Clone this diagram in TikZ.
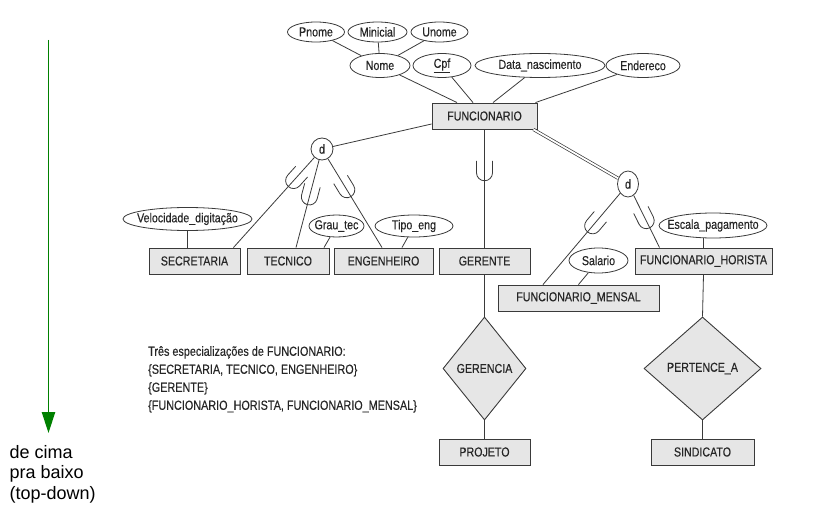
\documentclass[tikz,border=0pt]{standalone}
\usepackage{fontspec}
\usetikzlibrary{shapes.geometric,arrows.meta}
\newfontfamily\narrowfont{Liberation Sans}[FakeStretch=0.82,FakeBold=0.3]
\newfontfamily\plainfont{Liberation Sans}
% zero-width box so that ellipse sizes come only from their minimum sizes
\newcommand{\attrtext}[1]{\makebox[0pt]{#1}}
\definecolor{linec}{HTML}{3A3A3A}
\definecolor{boxfill}{HTML}{E6E6E6}
\definecolor{arrowgreen}{HTML}{008000}
\begin{document}
\begin{tikzpicture}[x=1pt,y=-1pt,
  labelfont/.style={font=\narrowfont\fontsize{13}{15}\selectfont, text=black!85},
  conn/.style={draw=linec, line width=0.8pt},
  entity/.style={rectangle, draw=linec, line width=0.9pt, fill=boxfill,
    minimum height=26pt, minimum width=#1, inner sep=0pt, labelfont},
  attr/.style args={#1x#2}{ellipse, draw=linec, line width=0.8pt, fill=white,
    minimum width=#1, minimum height=#2, inner sep=0pt, labelfont},
  rel/.style args={#1x#2}{diamond, draw=linec, line width=0.9pt, fill=boxfill,
    minimum width=#1, minimum height=#2, inner sep=0pt, labelfont},
  disj/.style args={#1x#2}{ellipse, draw=linec, line width=0.8pt, fill=white,
    minimum width=#1, minimum height=#2, inner sep=0pt, labelfont},
  subsetU/.pic={\draw[conn] (-10,-8) -- (2,-8) arc[start angle=-90, end angle=90, radius=8] -- (-10,8);},
  usym/.style={pos=#1, sloped, allow upside down},
  dbl/.style={draw=linec, line width=0.7pt, double=white, double distance=1.8pt},
  greenarrow/.style={draw=arrowgreen, line width=1.6pt,
    -{Triangle[width=13.3pt,length=21pt]}, arrowgreen}
]
\useasboundingbox (0,0) rectangle (837,513);

% direction arrow at the left
\coordinate (arrowtop) at (48.5,40);
\coordinate (arrowtip) at (48.5,433);
\draw[greenarrow] (arrowtop) -- (arrowtip);
\node[anchor=north west, align=left, inner sep=0pt,
      font=\plainfont\fontsize{18}{20.5}\selectfont] (dir) at (9.5,445)
  {de cima\\pra baixo\\(top-down)};

% entities
\node[entity=105pt] (func) at (484.5,116) {FUNCIONARIO};
\node[entity=91pt]  (sec)  at (194.5,261) {SECRETARIA};
\node[entity=82pt]  (tec)  at (288,261)   {TECNICO};
\node[entity=99pt]  (eng)  at (383.5,261) {ENGENHEIRO};
\node[entity=91pt]  (ger)  at (484.5,261) {GERENTE};
\node[entity=137pt] (hor)  at (703.5,261) {FUNCIONARIO\_HORISTA};
\node[entity=161pt] (men)  at (578.5,298) {FUNCIONARIO\_MENSAL};
\node[entity=91pt]  (proj) at (484.5,452) {PROJETO};
\node[entity=103pt] (sind) at (702.5,452) {SINDICATO};

% relationships
\node[rel=83ptx103pt]  (gerencia) at (484.5,368.5) {GERENCIA};
\node[rel=117ptx103pt] (pertence) at (702.5,368.5) {PERTENCE\_A};

% attributes of FUNCIONARIO
\node[attr=57ptx20pt]  (pnome)    at (316,32)    {\attrtext{Pnome}};
\node[attr=59ptx20pt]  (minicial) at (377.5,32)  {\attrtext{Minicial}};
\node[attr=57ptx20pt]  (unome)    at (439.5,32)  {\attrtext{Unome}};
\node[attr=60ptx24pt]  (nome)     at (380,65.5)  {\attrtext{Nome}};
\node[attr=58ptx24pt]  (cpf)      at (442,65.5)  {\attrtext{\underline{Cpf}}};
\node[attr=130ptx24pt] (datan)    at (540,65.5)  {\attrtext{Data\_nascimento}};
\node[attr=74ptx24pt]  (ender)    at (643,65.5)  {\attrtext{Endereco}};

% attributes of the subclasses
\node[attr=129ptx23pt] (veloc)   at (187.5,219)   {\attrtext{Velocidade\_digitação}};
\node[attr=55ptx22pt]  (grau)    at (336.5,226)   {\attrtext{Grau\_tec}};
\node[attr=78ptx22pt]  (tipo)    at (414,226)     {\attrtext{Tipo\_eng}};
\node[attr=59ptx25pt]  (salario) at (598.5,260.5) {\attrtext{Salario}};
\node[attr=108ptx25pt] (escala)  at (713,225.5)   {\attrtext{Escala\_pagamento}};

% disjointness circles
\node[disj=22ptx22pt] (d1) at (322,149) {d};
\node[disj=21ptx26pt] (d2) at (628,184) {d};

% composite attribute Nome
\draw[conn] (pnome) -- (nome);
\draw[conn] (minicial) -- (nome);
\draw[conn] (unome) -- (nome);

% attribute links to FUNCIONARIO
\draw[conn] (nome)  -- ([xshift=-27.5pt]func.north);
\draw[conn] (cpf)   -- ([xshift=-11.5pt]func.north);
\draw[conn] (datan) -- ([xshift=8.5pt]func.north);
\draw[conn] (ender) -- ([xshift=-2pt]func.north east);

% first specialization
\draw[conn] ([yshift=-8pt]func.west) -- (d1);
\draw[conn] (d1) -- ([xshift=-7pt]sec.north east) pic[usym=0.24] {subsetU};
\draw[conn] (d1) -- ([xshift=8pt]tec.north) pic[usym=0.40] {subsetU};
\draw[conn] (d1) -- ([xshift=-1.5pt]eng.north) pic[usym=0.33] {subsetU};

% second specialization
\draw[conn] (func.south) -- (ger.north) pic[usym=0.35] {subsetU};

% third specialization (total)
\draw[dbl] ([xshift=-4pt]func.south east) -- (d2);
\draw[conn] (d2) -- ([xshift=-35.5pt]men.north) pic[usym=0.34] {subsetU};
\draw[conn] (d2) -- ([xshift=25pt]hor.north west) pic[usym=0.45] {subsetU};

% local attributes
\draw[conn] (veloc.south) -- (veloc.south |- sec.north);
\draw[conn] (grau) -- ([xshift=36pt]tec.north);
\draw[conn] (tipo) -- ([xshift=18.5pt]eng.north);
\draw[conn] (salario) -- (men.north);
\draw[conn] (hor.north) -- (hor.north |- escala.south);

% relationships
\draw[conn] (ger.south) -- (gerencia.north);
\draw[conn] (gerencia.south) -- (proj.north);
\draw[conn] (hor.south) -- (pertence.north);
\draw[conn] (pertence.south) -- (sind.north);

% note
\node[anchor=north west, align=left, inner sep=0pt, text=black!85,
      font=\narrowfont\fontsize{13.2}{18}\selectfont] (note) at (148,346)
  {Três especializações de FUNCIONARIO:\\
   \{SECRETARIA, TECNICO, ENGENHEIRO\}\\
   \{GERENTE\}\\
   \{FUNCIONARIO\_HORISTA, FUNCIONARIO\_MENSAL\}};
\end{tikzpicture}
\end{document}
